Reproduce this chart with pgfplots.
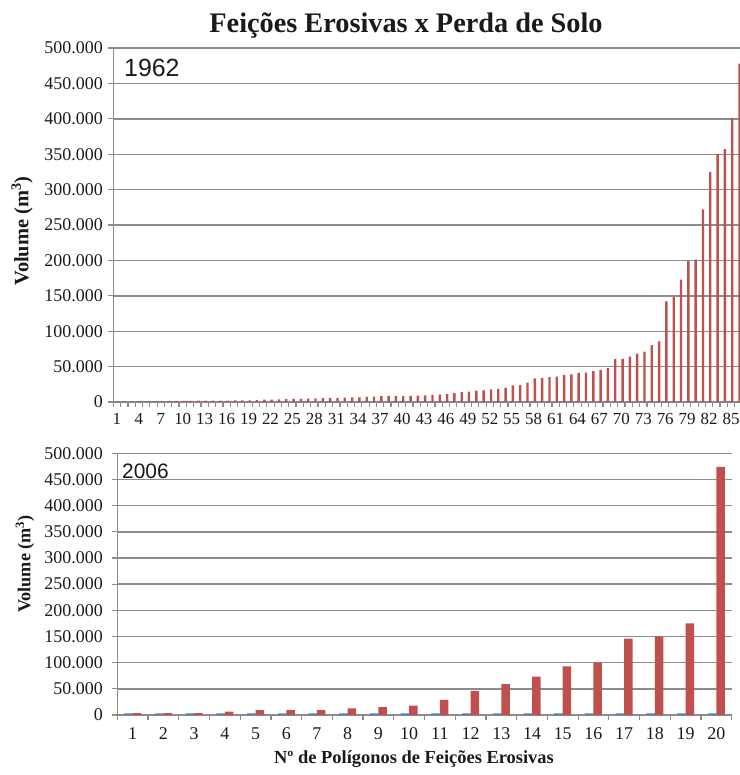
\documentclass[border=0pt]{standalone}
\usepackage{pgfplots}
\usepackage{pgfplotstable}
\pgfplotsset{compat=1.18}
\usepackage{fontspec}
\setmainfont{Liberation Serif}
\newfontfamily\arial{Liberation Sans}
\definecolor{exblue}{HTML}{4F81BD}
\definecolor{exred}{HTML}{C0504D}
\definecolor{gridg}{HTML}{8C8C8C}
\definecolor{txt}{HTML}{1A1A1A}

\pgfplotstableread{
n blue red
1 800 1000
2 800 1100
3 800 1200
4 800 1300
5 800 1400
6 800 1400
7 800 1500
8 800 1500
9 800 1600
10 800 1700
11 800 1700
12 800 1800
13 800 1900
14 800 2000
15 800 2000
16 800 2100
17 800 2200
18 800 2300
19 800 2400
20 800 2800
21 800 3200
22 800 3500
23 800 3800
24 800 4000
25 800 4300
26 800 4500
27 800 4800
28 800 5200
29 800 5500
30 800 5700
31 800 6000
32 800 6200
33 800 6400
34 800 6700
35 800 7200
36 800 7600
37 800 8200
38 800 8500
39 800 8600
40 800 8700
41 800 8800
42 800 9000
43 800 9500
44 800 10000
45 800 10500
46 800 11000
47 800 12500
48 800 14000
49 800 14500
50 800 16000
51 800 16500
52 800 18000
53 800 18500
54 800 20000
55 800 23500
56 800 24000
57 800 27500
58 800 33500
59 800 34000
60 800 35500
61 800 36000
62 800 38000
63 800 39000
64 800 41000
65 800 41500
66 800 43500
67 800 45500
68 800 48000
69 800 60500
70 800 61000
71 800 64000
72 800 68500
73 800 71000
74 800 80500
75 800 85500
76 800 142000
77 800 148000
78 800 173000
79 800 199000
80 800 201000
81 800 272000
82 800 325000
83 800 350000
84 800 357000
85 800 401000
86 800 478000
}\dataA

\pgfplotstableread{
n blue red
1 3000 3500
2 3000 3500
3 3000 3500
4 3000 6500
5 3000 9500
6 3000 9500
7 3000 9500
8 3000 12500
9 3000 15000
10 3000 18000
11 3000 29000
12 3000 46000
13 3000 59000
14 3000 73500
15 3000 93000
16 3000 100000
17 3000 146000
18 3000 150000
19 3000 175000
20 3000 474000
}\dataB

\pgfplotsset{
  excel/.style={
    scale only axis,
    enlargelimits=false,
    axis x line*=bottom, axis y line*=left,
    axis line style={gridg, line width=1.4bp},
    ymin=0, ymax=500000,
    ytick={0,50000,100000,150000,200000,250000,300000,350000,400000,450000,500000},
    ymajorgrids, grid style={gridg, line width=1.4bp},
    scaled y ticks=false,
    /pgf/number format/assume math mode=true,
    yticklabel style={/pgf/number format/fixed, /pgf/number format/1000 sep={.}},
    tick align=outside,
    major tick length=5bp, minor tick length=5bp,
    tick style={gridg, line width=1.2bp},
    major x tick style={draw=none},
    ticklabel style={text=txt},
    yticklabel style={font=\fontsize{18}{20}\selectfont},
    clip=true,
  }
}

\begin{document}
\begin{tikzpicture}
\useasboundingbox (0,0) rectangle (740bp,-775bp);
\clip (0,0) rectangle (740bp,-775bp);

\node[font=\fontsize{28.4}{32}\selectfont\bfseries, text=txt, anchor=base] at (406bp,-32.5bp) {Feições Erosivas x Perda de Solo};

\begin{axis}[excel,
  at={(113.3bp,-402bp)}, anchor=south west,
  width=626.7bp, height=354bp,
  xmin=0.5, xmax=86.23,
  xtick={1,4,...,85},
  minor xtick={0.5,1.5,...,86.5},
  xticklabel style={font=\fontsize{17}{19}\selectfont, yshift=-3bp},
  yticklabel style={xshift=-2bp},
  ybar=0pt, bar width=2.4bp]
\addplot[draw=none, fill=exblue] table[x=n, y=blue] {\dataA};
\addplot[draw=none, fill=exred] table[x=n, y=red] {\dataA};
\end{axis}

\begin{axis}[excel,
  at={(117.3bp,-715bp)}, anchor=south west,
  width=614.4bp, height=261.7bp,
  xmin=0.5, xmax=20.5,
  xtick={1,2,...,20},
  minor xtick={0.5,1.5,...,20.5},
  xticklabel style={font=\fontsize{18}{20}\selectfont, yshift=-4bp},
  yticklabel style={xshift=-6bp},
  ybar=0pt, bar width=8.5bp]
\addplot[draw=none, fill=exblue] table[x=n, y=blue] {\dataB};
\addplot[draw=none, fill=exred] table[x=n, y=red] {\dataB};
\end{axis}

\node[font=\arial\fontsize{25}{28}\selectfont, text=txt, anchor=base west, inner sep=0pt] at (124bp,-76bp) {1962};
\node[font=\arial\fontsize{21}{24}\selectfont, text=txt, anchor=base west, inner sep=0pt] at (122bp,-478bp) {2006};

\node[rotate=90, font=\fontsize{20.5}{24}\selectfont\bfseries, text=txt] at (22bp,-231bp) {Volume (m\textsuperscript{3})};
\node[rotate=90, font=\fontsize{18.3}{21}\selectfont\bfseries, text=txt] at (25bp,-564bp) {Volume (m\textsuperscript{3})};

\node[font=\fontsize{18.5}{21}\selectfont\bfseries, text=txt, anchor=base] at (414bp,-763bp) {Nº de Polígonos de Feições Erosivas};
\end{tikzpicture}
\end{document}
